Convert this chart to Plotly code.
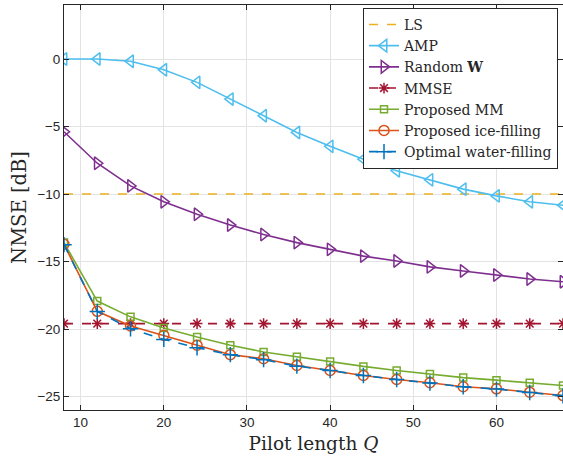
import plotly.graph_objects as go

# Pilot lengths
pilot_q = [8, 12, 16, 20, 24, 28, 32, 36, 40, 44, 48, 52, 56, 60, 64, 68]

# NMSE in dB for each scheme
nmse_ls = [-10.0] * 16
nmse_amp = [0.0, 0.0, -0.17, -0.8, -1.73, -2.97, -4.2, -5.44, -6.47, -7.42,
            -8.28, -8.95, -9.64, -10.14, -10.58, -10.83]
nmse_random_w = [-5.39, -7.72, -9.4, -10.58, -11.5, -12.3, -13.0, -13.6, -14.1,
                 -14.6, -14.96, -15.4, -15.7, -16.0, -16.3, -16.5]
nmse_mmse = [-19.6] * 16
nmse_mm = [-13.6, -17.93, -19.1, -19.93, -20.6, -21.2, -21.7, -22.06, -22.4,
           -22.77, -23.07, -23.34, -23.6, -23.79, -23.98, -24.18]
nmse_ice = [-13.72, -18.69, -19.78, -20.47, -21.2, -21.9, -22.2, -22.7, -23.07,
            -23.44, -23.74, -23.98, -24.28, -24.43, -24.68, -24.93]
nmse_water = [-13.75, -18.7, -19.98, -20.77, -21.39, -21.9, -22.27, -22.75,
              -23.07, -23.44, -23.74, -24.0, -24.28, -24.45, -24.7, -24.95]

x_ticks = [10, 20, 30, 40, 50, 60]
y_ticks = [-25, -20, -15, -10, -5, 0]

series = [
    ("LS", nmse_ls, "#EDB120", "dash", None, 0),
    ("AMP", nmse_amp, "#4DBEEE", "solid", "triangle-left-open", 11),
    ("Random <b>W</b>", nmse_random_w, "#7E2F8E", "solid", "triangle-right-open", 11),
    ("MMSE", nmse_mmse, "#A2142F", "dash", "asterisk-open", 9),
    ("Proposed MM", nmse_mm, "#77AC30", "solid", "square-open", 7),
    ("Proposed ice-filling", nmse_ice, "#D95319", "solid", "circle-open", 10),
    ("Optimal water-filling", nmse_water, "#0072BD", "dash", "cross-thin-open", 11),
]

serif = "DejaVu Serif, serif"

fig = go.Figure()
for name, vals, color, dash, symbol, size in series:
    mode = "lines" if symbol is None else "lines+markers"
    marker = None
    if symbol is not None:
        marker = dict(symbol=symbol, size=size, color=color,
                      line=dict(color=color, width=1.5))
    fig.add_trace(go.Scatter(
        x=pilot_q, y=vals, name=name, mode=mode,
        line=dict(color=color, width=1.6, dash=dash),
        marker=marker,
    ))

axis_common = dict(
    showline=True, linecolor="#262626", linewidth=1, mirror="ticks",
    ticks="inside", ticklen=5, tickcolor="#262626", tickwidth=1,
    showgrid=True, gridcolor="#e3e3e3", gridwidth=1, zeroline=False,
    tickfont=dict(family="Liberation Sans, Arial, sans-serif", size=13.5, color="#262626"),
)

fig.update_xaxes(
    range=[8, 68], tickvals=x_ticks,
    title=dict(text="Pilot length <i>Q</i>", standoff=7,
               font=dict(family=serif, size=18.5, color="#262626")),
    **axis_common,
)
fig.update_yaxes(
    range=[-26, 4], tickvals=y_ticks,
    title=dict(text="NMSE [dB]", standoff=5,
               font=dict(family=serif, size=19.5, color="#262626")),
    **axis_common,
)

fig.update_layout(
    width=563, height=457,
    margin=dict(l=64, r=0, t=5, b=47),
    paper_bgcolor="white", plot_bgcolor="white",
    showlegend=True,
    legend=dict(
        x=0.99, y=0.993, xanchor="right", yanchor="top",
        bgcolor="white", bordercolor="#262626", borderwidth=1,
        font=dict(family=serif, size=14, color="#262626"),
        tracegroupgap=0, itemwidth=30,
    ),
)

fig.write_html("out.html")
